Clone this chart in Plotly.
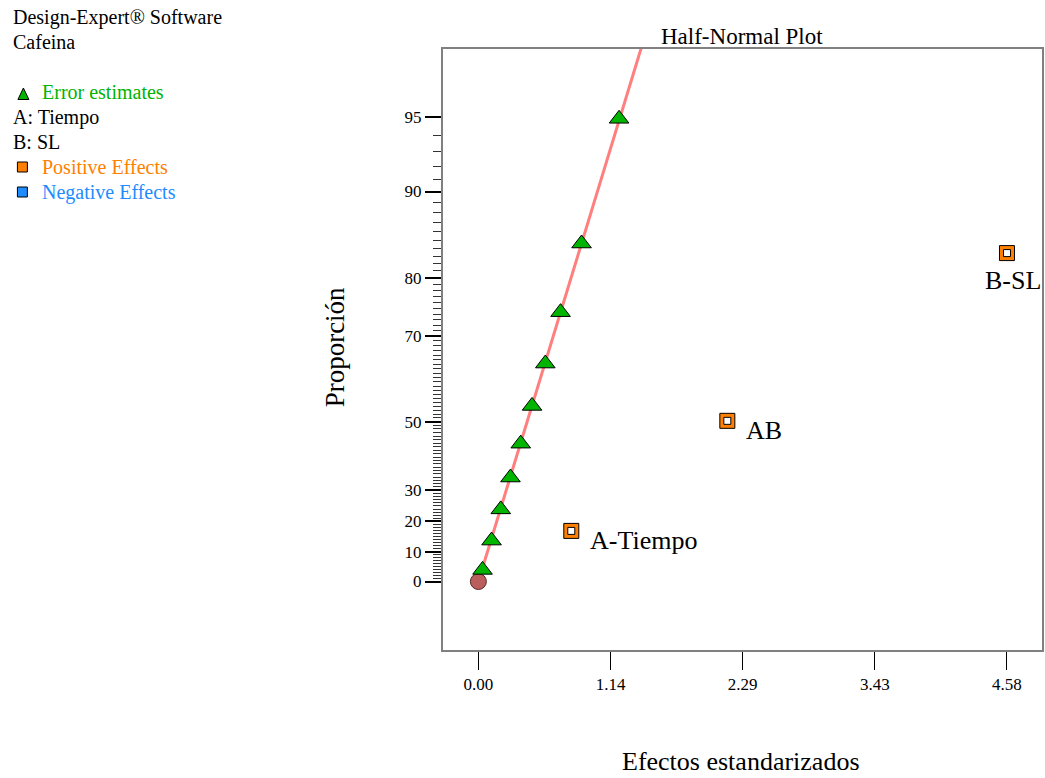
import plotly.graph_objects as go
from statistics import NormalDist

# ---------------- data ----------------
err_x = [0.036, 0.114, 0.194, 0.278, 0.367, 0.465, 0.580, 0.712, 0.894, 1.219]
err_p = [3.9, 13.7, 23.9, 33.9, 43.9, 54.1, 64.2, 74.4, 84.6, 94.9]

eff_names = ["A-Tiempo", "AB", "B-SL"]
eff_x = [0.805, 2.157, 4.58]
eff_p = [16.9, 50.2, 83.4]

origin_x = [0.0]
origin_p = [0.0]

y_tick_pcts = [0, 10, 20, 30, 50, 70, 80, 90, 95]
y_minor_pcts = [p for p in range(0, 95) if p not in y_tick_pcts]
x_tick_labels = ["0.00", "1.14", "2.29", "3.43", "4.58"]

legend_lines = [
    ("Design-Expert® Software", "#000000", False),
    ("Cafeina", "#000000", False),
    ("", "#000000", False),
    ("Error estimates", "#00B400", True),
    ("A: Tiempo", "#000000", False),
    ("B: SL", "#000000", False),
    ("Positive Effects", "#FF8000", True),
    ("Negative Effects", "#1E8CFF", True),
]

# ---------------- half-normal probability scale ----------------
nd = NormalDist()


def hn(p):
    return nd.inv_cdf(0.5 + p / 200.0)


err_z = [hn(p) for p in err_p]
eff_z = [hn(p) for p in eff_p]
origin_z = [hn(p) for p in origin_p]

# least-squares line through origin on the error estimates
slope = sum(x * z for x, z in zip(err_x, err_z)) / sum(x * x for x in err_x)
line_x = [0.0, 2.6 / slope]
line_z = [slope * v for v in line_x]

xmax = max(eff_x)
x_tick_vals = [xmax * i / 4 for i in range(5)]

W, H = 1045, 778
L, R, T, B = 443, 1044, 49, 650
pw, ph = R - L, B - T


def px(xpix):
    return (xpix - L) / pw


def py(ypix):
    return (B - ypix) / ph


FONT = "Liberation Serif, Times New Roman, serif"

fig = go.Figure()

fig.add_trace(go.Scatter(x=line_x, y=line_z, mode="lines",
                         line=dict(color="#FF7F7F", width=3),
                         hoverinfo="skip", showlegend=False))
fig.add_trace(go.Scatter(x=origin_x, y=origin_z, mode="markers",
                         marker=dict(symbol="circle", size=16, color="#BA5E5E",
                                     line=dict(color="#5A2A2A", width=1)),
                         showlegend=False))
fig.add_trace(go.Scatter(x=err_x, y=err_z, mode="markers",
                         marker=dict(symbol="triangle-up", size=17, color="#00B400",
                                     line=dict(color="#000000", width=1)),
                         showlegend=False))
fig.add_trace(go.Scatter(x=eff_x, y=eff_z, mode="markers",
                         marker=dict(symbol="square", size=15, color="#FF8000",
                                     line=dict(color="#000000", width=1)),
                         showlegend=False))
fig.add_trace(go.Scatter(x=eff_x, y=eff_z, mode="markers",
                         marker=dict(symbol="square", size=7, color="#FFFFFF",
                                     line=dict(color="#000000", width=1)),
                         showlegend=False))

annotations = []
# effect labels
label_offsets = {"A-Tiempo": ("left", 17, -10), "AB": ("left", 17, -10), "B-SL": ("center", 6, -27)}
for name, x, z in zip(eff_names, eff_x, eff_z):
    anc, dx, dy = label_offsets[name]
    annotations.append(dict(x=x, y=z, xref="x", yref="y", text=name, showarrow=False,
                            xanchor=anc, yanchor="middle", xshift=dx, yshift=dy,
                            font=dict(family=FONT, size=26, color="#000000")))

# titles
annotations.append(dict(x=px(743), y=py(36), xref="paper", yref="paper", text="Half-Normal Plot",
                        showarrow=False, xanchor="center", yanchor="middle",
                        font=dict(family=FONT, size=23, color="#000000")))
annotations.append(dict(x=px(742), y=py(761), xref="paper", yref="paper", text="Efectos estandarizados",
                        showarrow=False, xanchor="center", yanchor="middle",
                        font=dict(family=FONT, size=26, color="#000000")))
annotations.append(dict(x=px(335), y=py(347), xref="paper", yref="paper", text="Proporción",
                        showarrow=False, xanchor="center", yanchor="middle", textangle=-90,
                        font=dict(family=FONT, size=27, color="#000000")))

# left-side legend text
shapes = []
for i, (txt, col, has_sym) in enumerate(legend_lines):
    ypix = 17 + 25 * i
    if txt:
        xpix = 39 if has_sym else 10
        annotations.append(dict(x=px(xpix), y=py(ypix), xref="paper", yref="paper", text=txt,
                                showarrow=False, xanchor="left", yanchor="middle",
                                font=dict(family=FONT, size=20, color=col)))
    if has_sym:
        if txt == "Error estimates":
            cx, cy = 22, ypix + 2
            path = "M {} {} L {} {} L {} {} Z".format(px(cx - 5.5), py(cy + 5.5), px(cx + 5.5), py(cy + 5.5),
                                                     px(cx), py(cy - 6))
            shapes.append(dict(type="path", xref="paper", yref="paper", path=path,
                               fillcolor="#00B400", line=dict(color="#000000", width=1)))
        else:
            cx, cy = 21, ypix
            shapes.append(dict(type="rect", xref="paper", yref="paper",
                               x0=px(cx - 5), x1=px(cx + 5), y0=py(cy + 5), y1=py(cy - 5),
                               fillcolor=col, line=dict(color="#000000", width=1)))

fig.update_layout(
    width=W, height=H,
    margin=dict(l=L, r=W - R, t=T, b=H - B, pad=0),
    paper_bgcolor="white", plot_bgcolor="white",
    showlegend=False,
    font=dict(family=FONT, color="#000000"),
    annotations=annotations,
    shapes=shapes,
    xaxis=dict(range=[(L - 478.5) / 115.8, (R - 478.5) / 115.8],
               tickmode="array", tickvals=x_tick_vals, ticktext=x_tick_labels,
               ticks="outside", ticklen=18, tickwidth=1, tickcolor="#000000",
               tickfont=dict(family=FONT, size=17, color="#000000"),
               showline=True, linecolor="#808080", linewidth=2, mirror=True,
               showgrid=False, zeroline=False),
    yaxis=dict(range=[(581.5 - B) / 237.1, (581.5 - T) / 237.1],
               tickmode="array", tickvals=[hn(p) for p in y_tick_pcts],
               ticktext=[str(p) for p in y_tick_pcts],
               ticks="outside", ticklen=16, tickwidth=1.5, tickcolor="#000000",
               tickfont=dict(family=FONT, size=17, color="#000000"),
               minor=dict(tickmode="array", tickvals=[hn(p) for p in y_minor_pcts],
                          ticks="outside", ticklen=8, tickwidth=1, tickcolor="#333333",
                          showgrid=False),
               showline=True, linecolor="#808080", linewidth=2, mirror=True,
               showgrid=False, zeroline=False),
)

fig.write_html("out.html")
